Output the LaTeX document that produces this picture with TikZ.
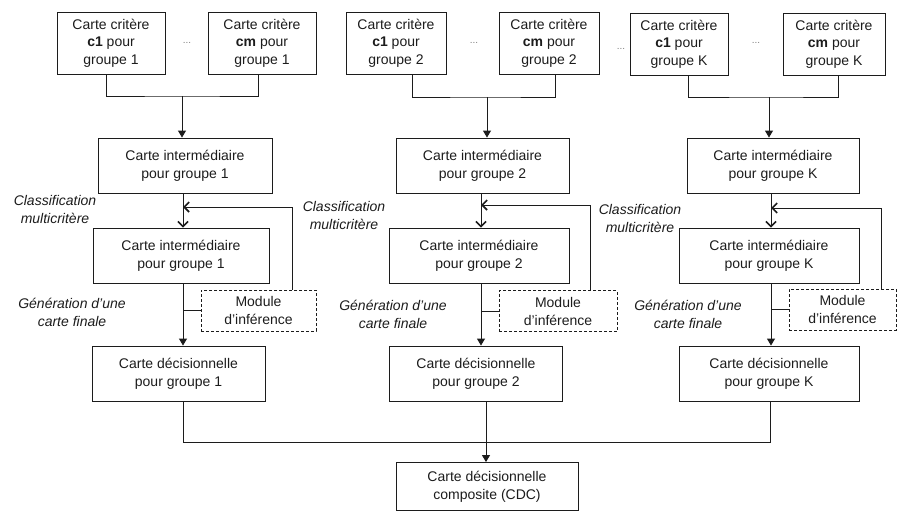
\documentclass[tikz,border=0pt]{standalone}
\usepackage{fontspec}
\setmainfont{Liberation Sans}
\usetikzlibrary{arrows.meta,calc}
\definecolor{ink}{HTML}{1C1C1C}
\begin{document}
\begin{tikzpicture}[x=1pt,y=-1pt,
  every node/.style={font=\fontsize{14}{18}\selectfont, text=ink},
  box/.style={draw=ink, line width=0.9pt, align=center, inner sep=0pt},
  crit/.style={box, minimum height=62pt, font=\fontsize{14}{17.5}\selectfont},
  mid/.style={box, minimum height=55pt},
  modbox/.style={box, dash pattern=on 3pt off 2pt, minimum height=41pt},
  lab/.style={align=center, inner sep=0pt, font=\itshape\fontsize{14}{18}\selectfont},
  dotsnode/.style={inner sep=0pt, text=gray, font=\fontsize{10}{10}\selectfont},
  wire/.style={draw=ink, line width=0.9pt},
  tri/.style={wire, -{Triangle[length=7pt,width=8pt]}},
  barb/.style={wire, -{Straight Barb[length=5pt,width=10pt,line width=1.6pt]}}
]
\useasboundingbox (0,0) rectangle (898,512);

% ---- row 1: criterion maps
\node[crit, minimum width=108pt] (c11) at (111,43) {Carte critère\\\textbf{c1} pour\\groupe 1};
\node[crit, minimum width=108pt] (cm1) at (262,43) {Carte critère\\\textbf{cm} pour\\groupe 1};
\node[crit, minimum width=100pt] (c12) at (396,43) {Carte critère\\\textbf{c1} pour\\groupe 2};
\node[crit, minimum width=100pt] (cm2) at (549,43) {Carte critère\\\textbf{cm} pour\\groupe 2};
\node[crit, minimum width=98pt] (c1K) at (679,44) {Carte critère\\\textbf{c1} pour\\groupe K};
\node[crit, minimum width=102pt] (cmK) at (834,44) {Carte critère\\\textbf{cm} pour\\groupe K};
\node[dotsnode] (dt1) at (187,43) {...};
\node[dotsnode] (dt2) at (474,43) {...};
\node[dotsnode] (dt3) at (621,49) {...};
\node[dotsnode] (dt4) at (756,43) {...};

% ---- row 2: intermediate maps
\node[mid, minimum width=174pt] (i1) at (185,165.5) {Carte intermédiaire\\pour groupe 1};
\node[mid, minimum width=173pt] (i2) at (482.5,165.5) {Carte intermédiaire\\pour groupe 2};
\node[mid, minimum width=172pt] (iK) at (773,165.5) {Carte intermédiaire\\pour groupe K};

% ---- row 3: intermediate maps after classification
\node[mid, minimum width=176pt] (l1) at (181,255.5) {Carte intermédiaire\\pour groupe 1};
\node[mid, minimum width=180pt] (l2) at (479,255.5) {Carte intermédiaire\\pour groupe 2};
\node[mid, minimum width=180pt] (lK) at (769,255.5) {Carte intermédiaire\\pour groupe K};

% ---- inference modules
\node[modbox, minimum width=115pt] (m1) at (258.5,310.5) {Module\\d'inférence};
\node[modbox, minimum width=118pt] (m2) at (558,311) {Module\\d'inférence};
\node[modbox, minimum width=107pt] (mK) at (842.5,309.5) {Module\\d'inférence};

% ---- row 4: decision maps
\node[mid, minimum width=173pt] (d1) at (178.5,373.5) {Carte décisionnelle\\pour groupe 1};
\node[mid, minimum width=173pt] (d2) at (476,373.5) {Carte décisionnelle\\pour groupe 2};
\node[mid, minimum width=180pt] (dK) at (769,373.5) {Carte décisionnelle\\pour groupe K};

% ---- composite map
\node[box, minimum width=182pt, minimum height=48pt] (cdc) at (487,486.5) {Carte décisionnelle\\composite (CDC)};

% ---- italic labels
\node[lab] (cls1) at (55,209.5) {Classification\\multicritère};
\node[lab] (cls2) at (344,215.5) {Classification\\multicritère};
\node[lab] (clsK) at (640,218) {Classification\\multicritère};
\node[lab] (gen1) at (72,312) {Génération d'une\\carte finale};
\node[lab] (gen2) at (393,314.5) {Génération d'une\\carte finale};
\node[lab] (genK) at (688,314.5) {Génération d'une\\carte finale};

% ---- column coordinates
\coordinate (v1) at (183,0);
\coordinate (v2) at (481,0);
\coordinate (vK) at (771,0);

% ---- brackets from criterion maps
\coordinate (j1) at (182,96);
\coordinate (j2) at (487,97);
\coordinate (jK) at (769,97);
\draw[wire] ([xshift=-5pt]c11.south) |- (j1) -| ([xshift=-4pt]cm1.south);
\draw[wire] ([xshift=16pt]c12.south) |- (j2) -| ([xshift=6pt]cm2.south);
\draw[wire] ([xshift=9pt]c1K.south) |- (jK) -| ([xshift=4pt]cmK.south);
\draw[tri] (j1) -- (j1 |- i1.north);
\draw[tri] (j2) -- (j2 |- i2.north);
\draw[tri] (jK) -- (jK |- iK.north);

% ---- classification arrows
\draw[barb] (i1.south -| v1) -- (l1.north -| v1);
\draw[barb] (i2.south -| v2) -- (l2.north -| v2);
\draw[barb] (iK.south -| vK) -- (lK.north -| vK);

% ---- feedback loops from inference modules
\coordinate (r1) at (292,207);
\coordinate (r2) at (590,205);
\coordinate (rK) at (881,208);
\draw[barb] (m1.north -| r1) -- (r1) -- (r1 -| v1);
\draw[barb] (m2.north -| r2) -- (r2) -- (r2 -| v2);
\draw[barb] (mK.north -| rK) -- (rK) -- (rK -| vK);

% ---- generation arrows
\draw[tri] (l1.south -| v1) -- (d1.north -| v1);
\draw[tri] (l2.south -| v2) -- (d2.north -| v2);
\draw[tri] (lK.south -| vK) -- (dK.north -| vK);
\draw[wire] (m1.west) -- (m1.west -| v1);
\draw[wire] (m2.west) -- (m2.west -| v2);
\draw[wire] (mK.west) -- (mK.west -| vK);

% ---- composite
\coordinate (bl) at (183,442);
\coordinate (br) at (770,442);
\coordinate (bc) at (486,0);
\draw[wire] (d1.south -| bl) -- (bl) -- (br) -- (dK.south -| br);
\draw[tri] (d2.south -| bc) -- (cdc.north -| bc);
\end{tikzpicture}
\end{document}
